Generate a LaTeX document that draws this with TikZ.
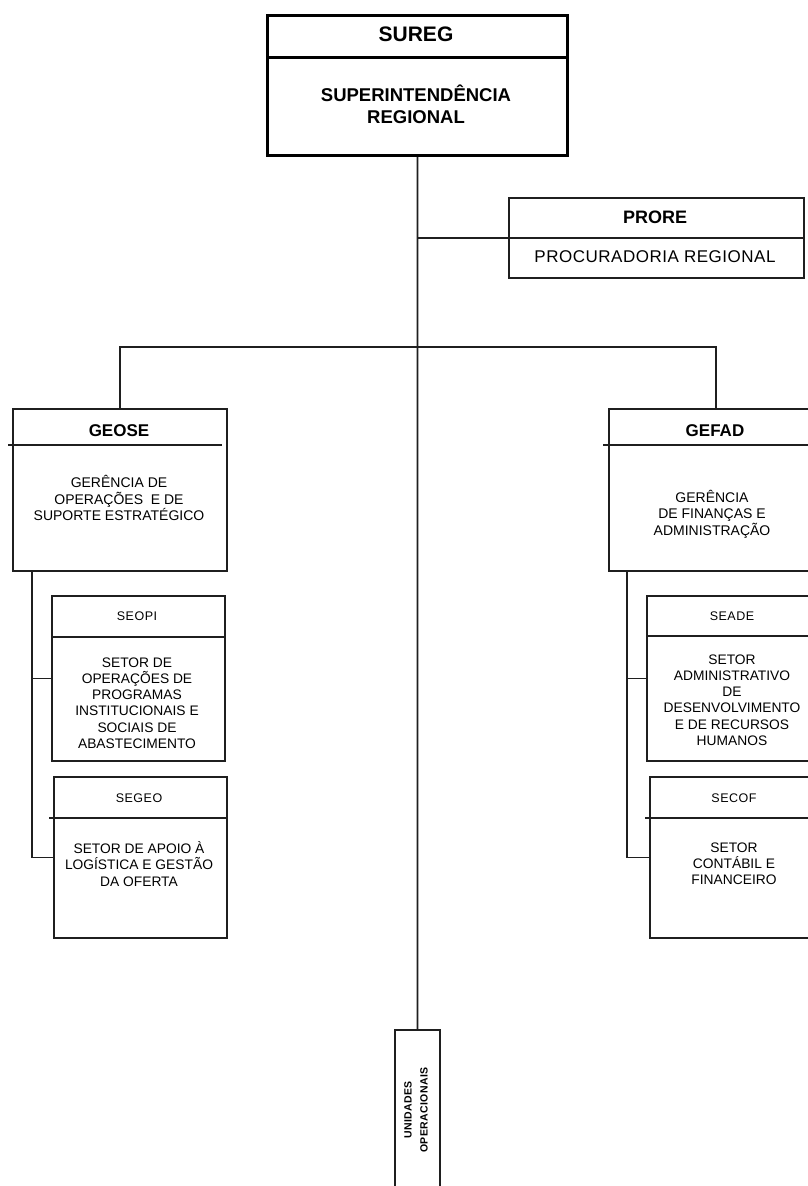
\documentclass[tikz,border=0pt]{standalone}
\usepackage{fontspec}
\setmainfont{Liberation Sans}
\begin{document}
\begin{tikzpicture}[x=1pt,y=-1pt,
  ln/.style={line width=1.8pt, draw=black!88},
  thick ln/.style={line width=3pt, draw=black},
  box/.style={ln, rectangle, inner sep=0pt, anchor=north west},
  txt/.style={align=center, inner sep=0pt, text=black},
  ttl/.style={txt, font=\bfseries\fontsize{17}{20}\selectfont},
  sttl/.style={txt, font=\fontsize{12.5}{14}\selectfont\addfontfeature{LetterSpace=4}},
  dsc/.style={txt, font=\fontsize{14}{16.5}\selectfont},
  sdsc/.style={txt, font=\fontsize{13.8}{16.2}\selectfont},
]
\useasboundingbox (0,0) rectangle (808,1186);
\fill[white] (0,0) rectangle (808,1186);

% SUREG
\node[box, thick ln, minimum width=300pt, minimum height=140pt] (sureg) at (266,14) {};
\draw[thick ln] (266,57) -- (566,57);
\node[txt, font=\bfseries\fontsize{21}{24}\selectfont] (suregt) at (416,34) {SUREG};
\node[txt, font=\bfseries\fontsize{18.5}{22}\selectfont] (suregd) at (416,104) {SUPERINTENDÊNCIA\\REGIONAL};

% PRORE
\node[box, minimum width=295pt, minimum height=80pt] (prore) at (508,197) {};
\draw[ln] (508,238) -- (803,238);
\node[txt, font=\bfseries\fontsize{18}{21}\selectfont] (proret) at (655,217) {PRORE};
\node[txt, font=\fontsize{17}{20}\selectfont\addfontfeature{LetterSpace=3}] (prored) at (655,257) {PROCURADORIA REGIONAL};

% GEOSE
\node[box, minimum width=214pt, minimum height=162pt] (geose) at (12,408) {};
\draw[ln] (8,445) -- (222,445);
\node[ttl] (geoset) at (119,431) {GEOSE};
\node[dsc] (geosed) at (119,498) {GERÊNCIA DE\\OPERAÇÕES \ E DE\\SUPORTE ESTRATÉGICO};

% GEFAD
\node[box, minimum width=214pt, minimum height=162pt] (gefad) at (608,408) {};
\draw[ln] (603,445) -- (822,445);
\node[ttl] (gefadt) at (715,431) {GEFAD};
\node[dsc] (gefadd) at (712,514) {GERÊNCIA\\DE FINANÇAS E\\ADMINISTRAÇÃO};

% SEOPI
\node[box, minimum width=173pt, minimum height=165pt] (seopi) at (51,595) {};
\draw[ln] (51,637) -- (224,637);
\node[sttl] (seopit) at (137,616) {SEOPI};
\node[sdsc] (seopid) at (137,703) {SETOR DE\\OPERAÇÕES DE\\PROGRAMAS\\INSTITUCIONAIS E\\SOCIAIS DE\\ABASTECIMENTO};

% SEGEO
\node[box, minimum width=173pt, minimum height=161pt] (segeo) at (53,776) {};
\draw[ln] (49,818) -- (226,818);
\node[sttl] (segeot) at (139,798) {SEGEO};
\node[sdsc] (segeod) at (139,864) {SETOR DE APOIO À\\LOGÍSTICA E GESTÃO\\DA OFERTA};

% SEADE
\node[box, minimum width=173pt, minimum height=165pt] (seade) at (646,595) {};
\draw[ln] (646,636) -- (819,636);
\node[sttl] (seadet) at (732,616) {SEADE};
\node[sdsc] (seaded) at (732,700) {SETOR\\ADMINISTRATIVO\\DE\\DESENVOLVIMENTO\\E DE RECURSOS\\HUMANOS};

% SECOF
\node[box, minimum width=173pt, minimum height=161pt] (secof) at (649,776) {};
\draw[ln] (645,818) -- (822,818);
\node[sttl] (secoft) at (734,798) {SECOF};
\node[sdsc] (secofd) at (734,864) {SETOR\\CONTÁBIL E\\FINANCEIRO};

% UNIDADES OPERACIONAIS
\node[box, minimum width=45pt, minimum height=170pt] (unid) at (394,1029) {};
\node[txt, rotate=90, font=\bfseries\fontsize{10.5}{16}\selectfont\addfontfeature{LetterSpace=4}] (unidt) at (416,1110) {UNIDADES\\OPERACIONAIS};

% connectors
\draw[ln] (sureg.south) -- (unid.north);
\draw[ln] (prore.west) -- (prore.west -| sureg.south);
\coordinate (bar) at (416,347);
\draw[ln] (geose.north) |- (bar) -| (gefad.north);
\coordinate (gsp) at (32,570);
\draw[ln] (gsp) |- (segeo.west);
\draw[ln] (gsp |- seopi.west) -- (seopi.west);
\coordinate (fsp) at (627,570);
\draw[ln] (fsp) |- (secof.west);
\draw[ln] (fsp |- seade.west) -- (seade.west);
\end{tikzpicture}
\end{document}
